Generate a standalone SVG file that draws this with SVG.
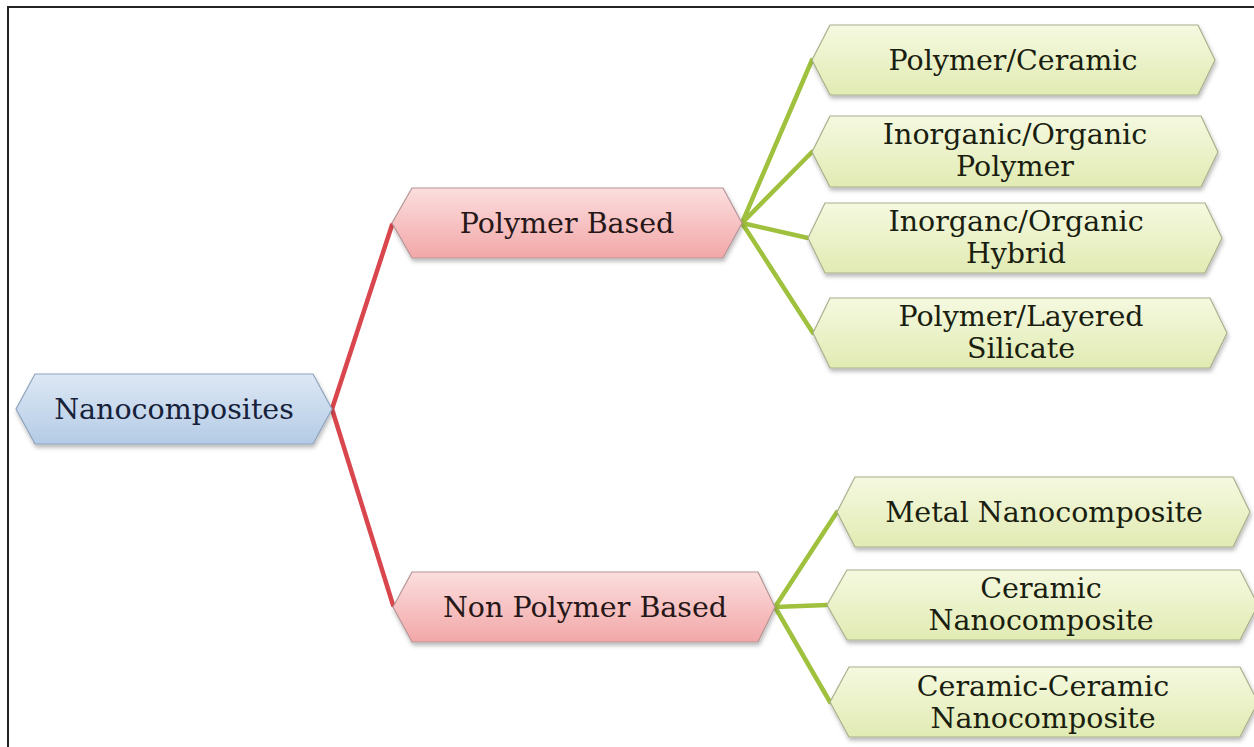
<svg xmlns="http://www.w3.org/2000/svg" width="1254" height="747" viewBox="0 0 1254 747">
  <style>
    .lbl { font-family: "DejaVu Serif", "Liberation Serif", serif; font-size: 28.5px; text-anchor: middle; }
    .blue { fill: url(#gBlue); stroke: #8ea3bd; stroke-width: 1.2; filter: url(#sh); }
    .red { fill: url(#gRed); stroke: #b59596; stroke-width: 1.2; filter: url(#sh); }
    .green { fill: url(#gGreen); stroke: #a8b08c; stroke-width: 1.2; filter: url(#sh); }
    .tb { fill: #17213a; }
    .tr { fill: #261718; }
    .tg { fill: #1a1e10; }
    .cr { stroke: #d9464d; stroke-width: 4.5; fill: none; stroke-linecap: round; }
    .cg { stroke: #9fc13d; stroke-width: 4.5; fill: none; stroke-linecap: round; }
  </style>
  <defs>
    <linearGradient id="gBlue" x1="0" y1="0" x2="0" y2="1">
      <stop offset="0" stop-color="#dde8f4"/>
      <stop offset="1" stop-color="#b4cbe6"/>
    </linearGradient>
    <linearGradient id="gRed" x1="0" y1="0" x2="0" y2="1">
      <stop offset="0" stop-color="#fcdede"/>
      <stop offset="1" stop-color="#f2a7a8"/>
    </linearGradient>
    <linearGradient id="gGreen" x1="0" y1="0" x2="0" y2="1">
      <stop offset="0" stop-color="#f5f9e0"/>
      <stop offset="1" stop-color="#e1ebb3"/>
    </linearGradient>
    <filter id="sh" x="-5%" y="-20%" width="110%" height="150%">
      <feDropShadow dx="1" dy="3" stdDeviation="2" flood-color="#000" flood-opacity="0.28"/>
    </filter>
  </defs>
  <rect width="1254" height="747" fill="#ffffff"/>
  <path d="M8,747 V7 H1254" fill="none" stroke="#222" stroke-width="2"/>

  <g id="connectors">
    <path class="cr" d="M332,409 L392,225 M332,409 L393,605"/>
    <path class="cg" d="M742,223 L812,60 M742,223 L812,152 M742,223 L808,238 M742,223 L813,333"/>
    <path class="cg" d="M775,607 L837,512 M775,607 L827,605 M775,607 L830,702"/>
  </g>

  <g id="nanocomposites">
    <polygon class="blue" points="16,409 35,374 313,374 332,409 313,444 35,444"/>
    <text class="lbl tb" x="174" y="419">Nanocomposites</text>
  </g>
  <g id="polymer-based">
    <polygon class="red" points="392,223 412,188 723,188 742,223 723,258 412,258"/>
    <text class="lbl tr" x="567" y="233">Polymer Based</text>
  </g>
  <g id="non-polymer-based">
    <polygon class="red" points="393,607 412,572 758,572 775,607 758,642 412,642"/>
    <text class="lbl tr" x="585" y="617">Non Polymer Based</text>
  </g>

  <g id="polymer-ceramic">
    <polygon class="green" points="812,60 830,25 1198,25 1215,60 1198,95 830,95"/>
    <text class="lbl tg" x="1013" y="70">Polymer/Ceramic</text>
  </g>
  <g id="inorganic-organic-polymer">
    <polygon class="green" points="812,152 830,116 1201,116 1218,152 1201,187 830,187"/>
    <text class="lbl tg" x="1015" y="144">Inorganic/Organic</text>
    <text class="lbl tg" x="1015" y="176">Polymer</text>
  </g>
  <g id="inorganc-organic-hybrid">
    <polygon class="green" points="808,238 825,203 1205,203 1222,238 1205,273 825,273"/>
    <text class="lbl tg" x="1016" y="231">Inorganc/Organic</text>
    <text class="lbl tg" x="1016" y="263">Hybrid</text>
  </g>
  <g id="polymer-layered-silicate">
    <polygon class="green" points="813,333 830,298 1210,298 1227,333 1210,368 830,368"/>
    <text class="lbl tg" x="1021" y="326">Polymer/Layered</text>
    <text class="lbl tg" x="1021" y="358">Silicate</text>
  </g>

  <g id="metal-nanocomposite">
    <polygon class="green" points="837,512 855,477 1233,477 1250,512 1233,547 855,547"/>
    <text class="lbl tg" x="1044" y="522">Metal Nanocomposite</text>
  </g>
  <g id="ceramic-nanocomposite">
    <polygon class="green" points="827,605 847,570 1240,570 1258,605 1240,640 847,640"/>
    <text class="lbl tg" x="1041" y="598">Ceramic</text>
    <text class="lbl tg" x="1041" y="630">Nanocomposite</text>
  </g>
  <g id="ceramic-ceramic-nanocomposite">
    <polygon class="green" points="830,702 849,667 1240,667 1258,702 1240,737 849,737"/>
    <text class="lbl tg" x="1043" y="696">Ceramic-Ceramic</text>
    <text class="lbl tg" x="1043" y="728">Nanocomposite</text>
  </g>
</svg>
